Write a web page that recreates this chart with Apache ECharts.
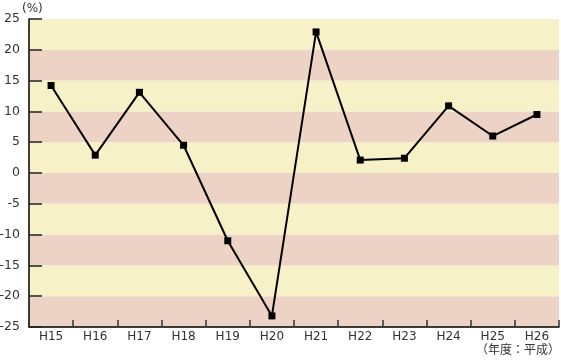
<!DOCTYPE html>
<html><head><meta charset="utf-8">
<script src="https://cdn.jsdelivr.net/npm/echarts@6/dist/echarts.min.js"></script>
<style>html,body{margin:0;padding:0;background:#fff}#c{width:561px;height:364px}</style>
</head><body><div id="c"></div>
<script>
const categories = ['H15','H16','H17','H18','H19','H20','H21','H22','H23','H24','H25','H26'];
const values = [14.2, 2.9, 13.1, 4.5, -11.0, -23.2, 22.9, 2.1, 2.4, 10.9, 6.0, 9.5];
const yUnit = '(%)';
const xUnit = '（年度：平成）';
const font = '"DejaVu Sans", sans-serif';
const cjk = '"Noto Sans CJK JP", sans-serif';
const chart = echarts.init(document.getElementById('c'));
chart.setOption({
  animation: false,
  grid: {left: 29, right: 2, top: 19, bottom: 37, outerBoundsMode: 'none', containLabel: false},
  xAxis: {
    type: 'category', data: categories, boundaryGap: true, z: 5,
    axisLine: {onZero: false, lineStyle: {color: '#000', width: 1.5}},
    axisTick: {show: true, inside: true, length: 7, lineStyle: {color: '#333', width: 1.5}},
    axisLabel: {color: '#333', fontSize: 12, fontFamily: font, margin: 4}
  },
  yAxis: [{
    type: 'value', min: -25, max: 25, interval: 5, z: 0,
    axisLine: {show: false}, axisTick: {show: false}, axisLabel: {show: false},
    splitLine: {show: false},
    splitArea: {show: true, areaStyle: {color: ['#ECD3C5', '#F6F1C6']}}
  }, {
    type: 'value', min: -25, max: 25, interval: 5, z: 5, position: 'left',
    axisLine: {show: true, onZero: false, lineStyle: {color: '#000', width: 1.5}},
    axisTick: {show: true, inside: true, length: 13, lineStyle: {color: '#222', width: 1.5}},
    axisLabel: {color: '#333', fontSize: 12.5, fontFamily: font, margin: 9},
    splitLine: {show: false}, splitArea: {show: false}
  }],
  graphic: [
    {type: 'text', left: 22, top: 3, z: 10, style: {text: yUnit, fill: '#333', fontSize: 12, fontFamily: font}},
    {type: 'text', right: 1, top: 343, z: 10, style: {text: xUnit, fill: '#333', fontSize: 12, fontFamily: cjk}}
  ],
  series: [{
    type: 'line', data: values, yAxisIndex: 0, z: 10,
    symbol: 'rect', symbolSize: 7,
    lineStyle: {color: '#000', width: 2},
    itemStyle: {color: '#000'}
  }]
});
</script></body></html>
